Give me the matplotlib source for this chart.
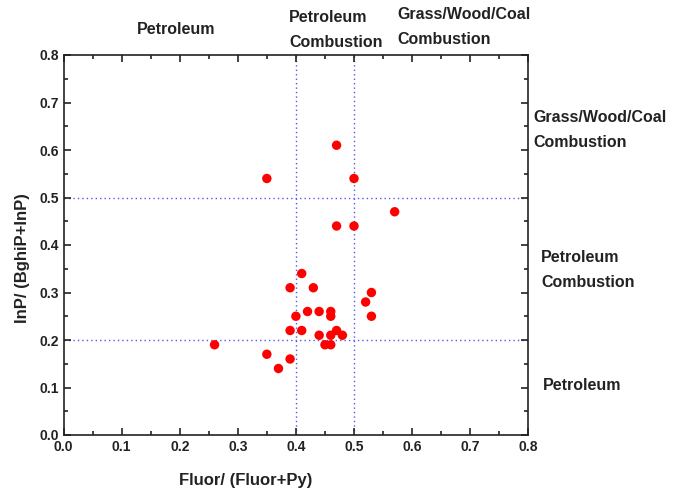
import matplotlib
matplotlib.use("Agg")
import matplotlib.pyplot as plt
from matplotlib.ticker import MultipleLocator

plt.rcParams['font.family'] = ['Liberation Sans', 'DejaVu Sans']
plt.rcParams['font.weight'] = 'bold'

fluor_ratio = [0.47, 0.35, 0.50, 0.57, 0.47, 0.50, 0.41, 0.39, 0.43, 0.53,
               0.52, 0.53, 0.40, 0.42, 0.44, 0.46, 0.46, 0.39, 0.41, 0.44,
               0.46, 0.47, 0.48, 0.45, 0.46, 0.26, 0.35, 0.39, 0.37]
inp_ratio = [0.61, 0.54, 0.54, 0.47, 0.44, 0.44, 0.34, 0.31, 0.31, 0.30,
             0.28, 0.25, 0.25, 0.26, 0.26, 0.26, 0.25, 0.22, 0.22, 0.21,
             0.21, 0.22, 0.21, 0.19, 0.19, 0.19, 0.17, 0.16, 0.14]

x_thresholds = [0.4, 0.5]
y_thresholds = [0.2, 0.5]

xticks = [0.0, 0.1, 0.2, 0.3, 0.4, 0.5, 0.6, 0.7, 0.8]
yticks = [0.0, 0.1, 0.2, 0.3, 0.4, 0.5, 0.6, 0.7, 0.8]

W, H = 675, 497
fig = plt.figure(figsize=(W / 100, H / 100), dpi=100)
ax = fig.add_axes([63.5 / W, 1 - 435 / H, (528.3 - 63.5) / W, (435 - 55) / H])

for xv in x_thresholds:
    ax.axvline(xv, color='#5555ee', linestyle=(0, (1, 2.2)), linewidth=1.0, zorder=1)
for yv in y_thresholds:
    ax.axhline(yv, color='#5555ee', linestyle=(0, (1, 2.2)), linewidth=1.0, zorder=1)

ax.scatter(fluor_ratio, inp_ratio, s=46, color='#ff0000', edgecolors='none', zorder=3)

ax.set_xlim(0, 0.8)
ax.set_ylim(0, 0.8)
ax.set_xticks(xticks)
ax.set_yticks(yticks)
ax.set_xticklabels([f"{v:.1f}" for v in xticks])
ax.set_yticklabels([f"{v:.1f}" for v in yticks])
ax.xaxis.set_minor_locator(MultipleLocator(0.05))
ax.yaxis.set_minor_locator(MultipleLocator(0.05))
ax.tick_params(which='both', direction='in', top=True, right=True, width=1.2,
               labelsize=10, colors='#222222')
ax.tick_params(which='major', length=5)
ax.tick_params(which='minor', length=3)
for lab in ax.get_xticklabels() + ax.get_yticklabels():
    lab.set_fontweight('bold')
for sp in ax.spines.values():
    sp.set_linewidth(1.2)
    sp.set_color('#222222')


def ftext(x, y, s, size=11.5, **kw):
    fig.text(x / W, 1 - y / H, s, fontsize=size, fontweight='bold', color='#222222',
             linespacing=1.85, **kw)


ftext(246, 480, "Fluor/ (Fluor+Py)", size=12, ha='center', va='center')
ftext(23, 258, "InP/ (BghiP+InP)", size=12, ha='center', va='center', rotation=90)

ftext(176, 30, "Petroleum", ha='center', va='center')
ftext(289, 30, "Petroleum\nCombustion", ha='left', va='center')
ftext(397, 27, "Grass/Wood/Coal\nCombustion", ha='left', va='center')
ftext(533, 130, "Grass/Wood/Coal\nCombustion", ha='left', va='center')
ftext(541, 270, "Petroleum\nCombustion", ha='left', va='center')
ftext(543, 386, "Petroleum", ha='left', va='center')

fig.savefig("out.png", dpi=100)
